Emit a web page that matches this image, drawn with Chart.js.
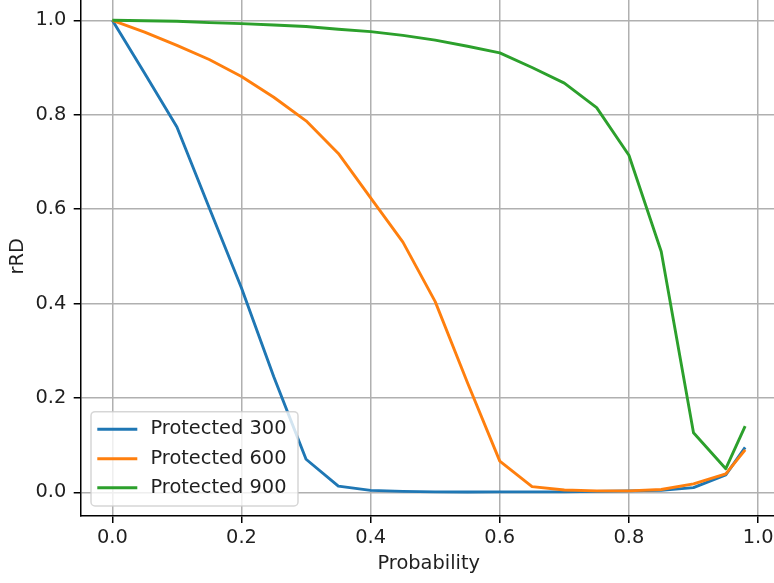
<!DOCTYPE html>
<html>
<head>
<meta charset="utf-8">
<script src="https://cdn.jsdelivr.net/npm/chart.js@4.4.1/dist/chart.umd.min.js"></script>
<style>
  html, body { margin: 0; padding: 0; background: #ffffff; overflow: hidden; width: 774px; height: 583px; }
  #wrap { position: absolute; left: 0; top: -10px; width: 800px; height: 600px; }
</style>
</head>
<body>
<div id="wrap"><canvas id="c" width="800" height="600"></canvas></div>
<script>
// ---- data ----
const probability = [0, 0.05, 0.1, 0.15, 0.2, 0.25, 0.3, 0.35, 0.4, 0.45, 0.5, 0.55, 0.6, 0.65, 0.7, 0.75, 0.8, 0.85, 0.9, 0.95, 0.98];
const protected300 = [1.0, 0.888, 0.774, 0.603, 0.433, 0.245, 0.07, 0.013, 0.004, 0.002, 0.001, 0.0005, 0.001, 0.0008, 0.001, 0.002, 0.003, 0.004, 0.01, 0.037, 0.095];
const protected600 = [1.0, 0.975, 0.947, 0.917, 0.881, 0.837, 0.787, 0.718, 0.624, 0.53, 0.404, 0.232, 0.066, 0.012, 0.005, 0.003, 0.003, 0.006, 0.018, 0.039, 0.09];
const protected900 = [1.0, 0.999, 0.998, 0.995, 0.993, 0.99, 0.987, 0.981, 0.976, 0.968, 0.958, 0.945, 0.931, 0.90, 0.867, 0.815, 0.714, 0.51, 0.126, 0.05, 0.14];
const seriesLabels = ['Protected 300', 'Protected 600', 'Protected 900'];
const xTickValues = [0.0, 0.2, 0.4, 0.6, 0.8, 1.0];
const yTickValues = [0.0, 0.2, 0.4, 0.6, 0.8, 1.0];
const xAxisTitle = 'Probability';
const yAxisTitle = 'rRD';

// ---- styling ----
const FONT = 'DejaVu Sans';
const FS = 19.4;
const TEXT = '#1f1f1f';
const colors = ['#1f77b4', '#ff7f0e', '#2ca02c'];
const seriesValues = [protected300, protected600, protected900];

const datasets = seriesValues.map((vals, i) => ({
  label: seriesLabels[i],
  data: probability.map((x, j) => ({ x: x, y: vals[j] })),
  borderColor: colors[i],
  backgroundColor: colors[i],
  borderWidth: 2.9,
  pointRadius: 0,
  pointHoverRadius: 0,
  tension: 0,
  fill: false,
  borderJoinStyle: 'round',
  order: 3 - i
}));

const mplLegend = {
  id: 'mplLegend',
  afterDatasetsDraw(chart) {
    const ctx = chart.ctx;
    const area = chart.chartArea;
    const w = 207, h = 94.3;
    const x0 = area.left + 10.3;
    const y0 = area.bottom - 9.9 - h;
    ctx.save();
    const r = 4;
    ctx.beginPath();
    ctx.moveTo(x0 + r, y0);
    ctx.lineTo(x0 + w - r, y0);
    ctx.arcTo(x0 + w, y0, x0 + w, y0 + r, r);
    ctx.lineTo(x0 + w, y0 + h - r);
    ctx.arcTo(x0 + w, y0 + h, x0 + w - r, y0 + h, r);
    ctx.lineTo(x0 + r, y0 + h);
    ctx.arcTo(x0, y0 + h, x0, y0 + h - r, r);
    ctx.lineTo(x0, y0 + r);
    ctx.arcTo(x0, y0, x0 + r, y0, r);
    ctx.closePath();
    ctx.fillStyle = 'rgba(255,255,255,0.8)';
    ctx.fill();
    ctx.strokeStyle = 'rgba(204,204,204,0.8)';
    ctx.lineWidth = 1.5;
    ctx.stroke();
    const rows = [17.6, 47.0, 76.0];
    chart.data.datasets.forEach((ds, i) => {
      const cy = y0 + rows[i];
      ctx.beginPath();
      ctx.moveTo(x0 + 6.3, cy);
      ctx.lineTo(x0 + 46.3, cy);
      ctx.strokeStyle = ds.borderColor;
      ctx.lineWidth = 2.9;
      ctx.stroke();
      ctx.fillStyle = TEXT;
      ctx.font = FS + 'px "' + FONT + '"';
      ctx.textAlign = 'left';
      ctx.textBaseline = 'middle';
      ctx.fillText(ds.label, x0 + 59.5, cy);
    });
    ctx.restore();
  }
};

const gridCommon = {
  color: '#b0b0b0',
  lineWidth: 1.5,
  drawTicks: true,
  tickLength: 7,
  tickColor: '#000000',
  tickWidth: 1.5
};

new Chart(document.getElementById('c'), {
  type: 'line',
  data: { datasets: datasets },
  options: {
    responsive: false,
    animation: false,
    devicePixelRatio: 1,
    layout: { padding: { left: 0, right: 23.2, top: 6.7, bottom: 14.1 } },
    plugins: {
      legend: { display: false },
      tooltip: { enabled: false },
      title: { display: false }
    },
    scales: {
      x: {
        type: 'linear',
        min: -0.049,
        max: 1.029,
        afterBuildTicks: (s) => { s.ticks = xTickValues.map(v => ({ value: v })); },
        afterFit: (s) => { s.height = 60; s.paddingLeft = 0; s.paddingRight = 0; s.paddingTop = 0; s.paddingBottom = 0; },
        grid: gridCommon,
        border: { display: true, color: '#000000', width: 1.5 },
        ticks: {
          font: { family: FONT, size: FS },
          color: TEXT,
          padding: 3.7,
          maxRotation: 0,
          autoSkip: false,
          callback: (v) => Number(v).toFixed(1)
        },
        title: {
          display: true,
          text: xAxisTitle,
          font: { family: FONT, size: FS },
          color: TEXT,
          padding: { top: 0, bottom: 0 }
        }
      },
      y: {
        type: 'linear',
        min: -0.05,
        max: 1.05,
        afterBuildTicks: (s) => { s.ticks = yTickValues.map(v => ({ value: v })); },
        afterFit: (s) => { s.width = 80.7; s.paddingLeft = 0; s.paddingRight = 0; s.paddingTop = 0; s.paddingBottom = 0; },
        grid: gridCommon,
        border: { display: true, color: '#000000', width: 1.5 },
        ticks: {
          font: { family: FONT, size: FS },
          color: TEXT,
          padding: 7.4,
          autoSkip: false,
          callback: (v) => Number(v).toFixed(1)
        },
        title: {
          display: true,
          text: yAxisTitle,
          font: { family: FONT, size: FS },
          color: TEXT,
          padding: { top: 6.7, bottom: 0 }
        }
      }
    }
  },
  plugins: [mplLegend]
});
</script>
</body>
</html>
